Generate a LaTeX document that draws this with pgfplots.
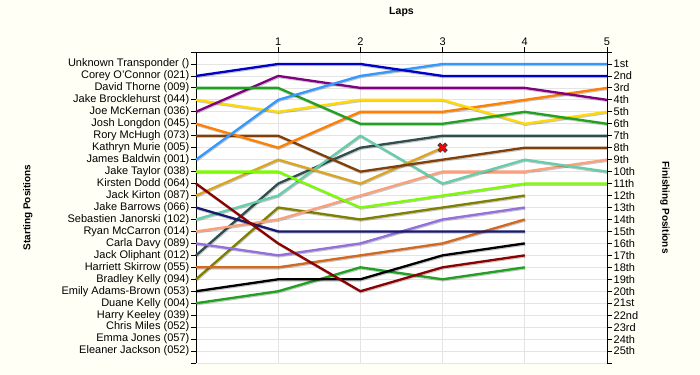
\documentclass[border=0pt]{standalone}
\usepackage{fontspec}
\setmainfont{Liberation Sans}
\usepackage{pgfplots}
\pgfplotsset{compat=1.18}

\definecolor{bgcol}{RGB}{255,255,245}
\definecolor{gridc}{RGB}{228,228,228}
\definecolor{cCorey}{RGB}{0,0,205}
\definecolor{cDavid}{RGB}{34,160,34}
\definecolor{cBrock}{RGB}{255,218,0}
\definecolor{cMcK}{RGB}{128,0,128}
\definecolor{cLong}{RGB}{255,128,0}
\definecolor{cMcH}{RGB}{128,64,10}
\definecolor{cBald}{RGB}{51,153,255}
\definecolor{cTay}{RGB}{124,252,0}
\definecolor{cDodd}{RGB}{139,0,0}
\definecolor{cKirt}{RGB}{218,165,32}
\definecolor{cBarr}{RGB}{25,25,112}
\definecolor{cJan}{RGB}{102,205,170}
\definecolor{cMcC}{RGB}{250,160,122}
\definecolor{cDavy}{RGB}{147,112,219}
\definecolor{cOli}{RGB}{47,79,79}
\definecolor{cSkir}{RGB}{210,105,30}
\definecolor{cBK}{RGB}{128,128,0}
\definecolor{cEAB}{RGB}{0,0,0}
\definecolor{cDK}{RGB}{34,160,34}

\pgfdeclareplotmark{bigx}{%
  \pgftransformrotate{45}%
  \pgfpathmoveto{\pgfqpoint{-1.5bp}{5bp}}%
  \pgfpathlineto{\pgfqpoint{1.5bp}{5bp}}%
  \pgfpathlineto{\pgfqpoint{1.5bp}{1.5bp}}%
  \pgfpathlineto{\pgfqpoint{5bp}{1.5bp}}%
  \pgfpathlineto{\pgfqpoint{5bp}{-1.5bp}}%
  \pgfpathlineto{\pgfqpoint{1.5bp}{-1.5bp}}%
  \pgfpathlineto{\pgfqpoint{1.5bp}{-5bp}}%
  \pgfpathlineto{\pgfqpoint{-1.5bp}{-5bp}}%
  \pgfpathlineto{\pgfqpoint{-1.5bp}{-1.5bp}}%
  \pgfpathlineto{\pgfqpoint{-5bp}{-1.5bp}}%
  \pgfpathlineto{\pgfqpoint{-5bp}{1.5bp}}%
  \pgfpathlineto{\pgfqpoint{-1.5bp}{1.5bp}}%
  \pgfpathclose
  \pgfusepathqfillstroke
}

\pgfplotsset{
  rankaxis/.style={
    at={(196bp,323bp)}, anchor=north west,
    scale only axis, width=411bp, height=311bp,
    xmin=0, xmax=5, ymin=0, ymax=26, y dir=reverse,
    ytick={0,...,26}, xtick={1,...,5},
    tick align=outside, major tick length=5bp,
    axis line style={-, black, line width=0.8bp},
    tick style={black, line width=0.8bp},
    ticklabel style={font=\fontsize{11bp}{13bp}\selectfont, inner sep=1.5bp},
    label style={font=\fontsize{10bp}{12bp}\selectfont\bfseries},
    /pgf/number format/assume math mode=true,
    clip=false,
  }
}

\begin{document}
\begin{tikzpicture}
\fill[bgcol] (0,0) rectangle (700bp,375bp);
\begin{axis}[rankaxis,
  axis background/.style={fill=white},
  axis x line*=top, axis y line*=left,
  grid=major, grid style={gridc, line width=0.7bp},
  title={Laps},
  title style={at={(axis description cs:0.5,1.109)}, anchor=center, font=\fontsize{10.5bp}{13bp}\selectfont\bfseries},
  ylabel={Starting Positions},
  ylabel style={at={(axis description cs:-0.409,0.5)}, anchor=center},
  yticklabels={,Unknown Transponder (),Corey O'Connor (021),David Thorne (009),Jake Brocklehurst (044),Joe McKernan (036),Josh Longdon (045),Rory McHugh (073),Kathryn Murie (005),James Baldwin (001),Jake Taylor (038),Kirsten Dodd (064),Jack Kirton (087),Jake Barrows (066),Sebastien Janorski (102),Ryan McCarron (014),Carla Davy (089),Jack Oliphant (012),Harriett Skirrow (055),Bradley Kelly (094),Emily Adams-Brown (053),Duane Kelly (004),Harry Keeley (039),Chris Miles (052),Emma Jones (057),Eleaner Jackson (052),},
  shadowed/.style={line width=2.3bp, line join=round,
    preaction={draw=black, draw opacity=0.22, line width=2.3bp, transform canvas={shift={(0.6bp,-1.1bp)}}}},
]
\addplot[shadowed, cDK] coordinates {(0,21)(1,20)(2,18)(3,19)(4,18)};
\addplot[shadowed, cEAB] coordinates {(0,20)(1,19)(2,19)(3,17)(4,16)};
\addplot[shadowed, cBK] coordinates {(0,19)(1,13)(2,14)(3,13)(4,12)};
\addplot[shadowed, cSkir] coordinates {(0,18)(1,18)(2,17)(3,16)(4,14)};
\addplot[shadowed, cOli] coordinates {(0,17)(1,11)(2,8)(3,7)(4,7)(5,7)};
\addplot[shadowed, cDavy] coordinates {(0,16)(1,17)(2,16)(3,14)(4,13)};
\addplot[shadowed, cMcC] coordinates {(0,15)(1,14)(2,12)(3,10)(4,10)(5,9)};
\addplot[shadowed, cJan] coordinates {(0,14)(1,12)(2,7)(3,11)(4,9)(5,10)};
\addplot[shadowed, cBarr] coordinates {(0,13)(1,15)(2,15)(3,15)(4,15)};
\addplot[shadowed, cKirt] coordinates {(0,12)(1,9)(2,11)(3,8)};
\addplot[shadowed, cDodd] coordinates {(0,11)(1,16)(2,20)(3,18)(4,17)};
\addplot[shadowed, cTay] coordinates {(0,10)(1,10)(2,13)(3,12)(4,11)(5,11)};
\addplot[shadowed, cMcH] coordinates {(0,7)(1,7)(2,10)(3,9)(4,8)(5,8)};
\addplot[shadowed, cLong] coordinates {(0,6)(1,8)(2,5)(3,5)(4,4)(5,3)};
\addplot[shadowed, cBrock] coordinates {(0,4)(1,5)(2,4)(3,4)(4,6)(5,5)};
\addplot[shadowed, cMcK] coordinates {(0,5)(1,2)(2,3)(3,3)(4,3)(5,4)};
\addplot[shadowed, cDavid] coordinates {(0,3)(1,3)(2,6)(3,6)(4,5)(5,6)};
\addplot[shadowed, cBald] coordinates {(0,9)(1,4)(2,2)(3,1)(4,1)(5,1)};
\addplot[shadowed, cCorey] coordinates {(0,2)(1,1)(2,1)(3,2)(4,2)(5,2)};
\addplot[only marks, mark=bigx, mark options={fill=red, draw=black!75, line width=0.8bp}] coordinates {(3,8)};
\end{axis}
\begin{axis}[rankaxis,
  axis x line=none, axis y line*=right,
  ylabel={Finishing Positions},
  ylabel style={at={(axis description cs:1.141,0.5)}, anchor=center, rotate=180},
  yticklabels={,1st,2nd,3rd,4th,5th,6th,7th,8th,9th,10th,11th,12th,13th,14th,15th,16th,17th,18th,19th,20th,21st,22nd,23rd,24th,25th,},
]
\addplot[draw=none] coordinates {(0,1)(5,25)};
\end{axis}
\pgfresetboundingbox
\path[use as bounding box] (0,0) rectangle (700bp,375bp);
\end{tikzpicture}
\end{document}
